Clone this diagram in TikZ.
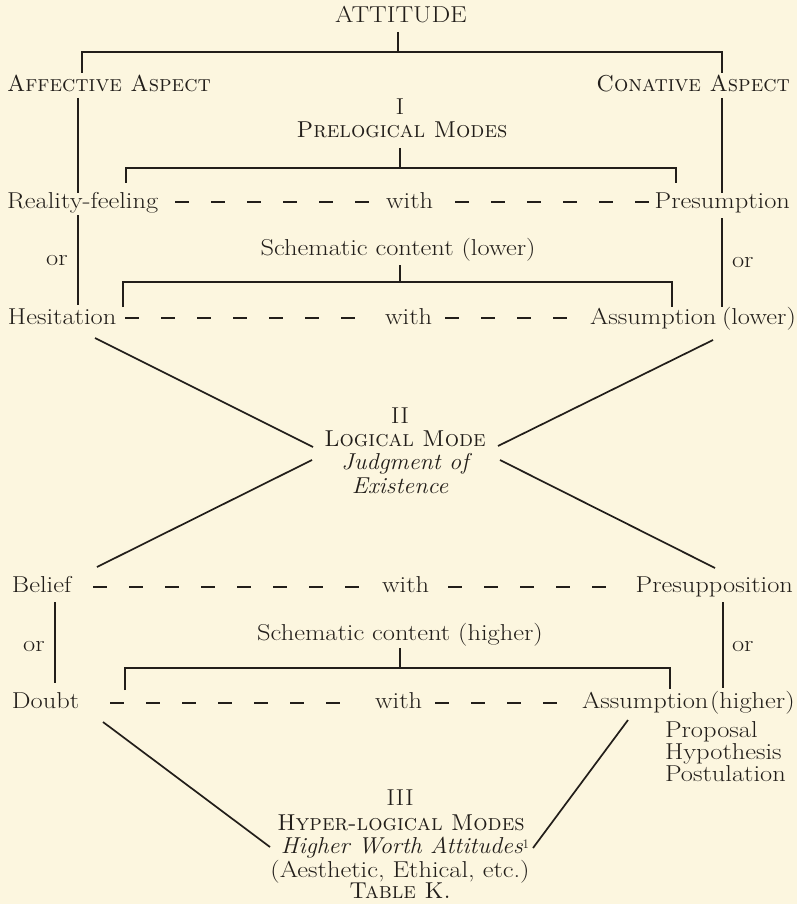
\documentclass[tikz,border=0pt]{standalone}
\definecolor{bg}{HTML}{FCF6DF}
\definecolor{ink}{HTML}{221E1A}
\newcommand\Rm[1]{\scalebox{1.15}[1]{#1}}
\newcommand\It[1]{\scalebox{1.05}[1]{\itshape #1}}
\newcommand\Sc[1]{\scalebox{0.98}[1]{\scshape #1}}
\begin{document}
\begin{tikzpicture}[x=1pt,y=-1pt,
  every node/.style={inner sep=0pt,outer sep=0pt,text=ink,font=\fontsize{23}{27}\selectfont},
  ln/.style={draw=ink,line width=1.7pt},
  dl/.style={draw=ink,line width=1.5pt,dash pattern=on 14pt off 22pt},
  tl/.style={anchor=base west},
  tr/.style={anchor=base east},
  tc/.style={anchor=base}]
\useasboundingbox[fill=bg] (0,0) rectangle (797,904);
% --- texts ---
\node[tc] (attitude) at (401,23) {\Rm{ATTITUDE}};
\node[tl] (affective) at (7,92) {\Sc{Affective Aspect}};
\node[tr] (conative) at (790,92) {\Sc{Conative Aspect}};
\node[tc] (one) at (400,115) {\Rm{I}};
\node[tc] (prelogical) at (402,138) {\Sc{Prelogical Modes}};
\node[tl] (reality) at (7,208) {\Rm{Reality-feeling}};
\node[tl] (withA) at (386,208) {\Rm{with}};
\node[tr] (presumption) at (790,208) {\Rm{Presumption}};
\node[tc] (orA) at (57,265) {\Rm{or}};
\node[tl] (orB) at (732,267) {\Rm{or}};
\node[tc] (schemA) at (398,255) {\Rm{Schematic content (lower)}};
\node[tl] (hesitation) at (8,324) {\Rm{Hesitation}};
\node[tl] (withB) at (385,324) {\Rm{with}};
\node[tl] (assumA) at (590,324) {\Rm{Assumption}};
\node[tl] (lower) at (722,324) {\Rm{(lower)}};
\node[tc] (two) at (400,423) {\Rm{II}};
\node[tc] (logical) at (405,446) {\Sc{Logical Mode}};
\node[tc] (judgment) at (405,469) {\It{Judgment of}};
\node[tc] (existence) at (400,493) {\It{Existence}};
\node[tl] (belief) at (12,592) {\Rm{Belief}};
\node[tl] (withC) at (382,592) {\Rm{with}};
\node[tr] (presup) at (793,592) {\Rm{Presupposition}};
\node[tc] (orC) at (34,651) {\Rm{or}};
\node[tl] (orD) at (732,651) {\Rm{or}};
\node[tc] (schemB) at (400,640) {\Rm{Schematic content (higher)}};
\node[tl] (doubt) at (12,708) {\Rm{Doubt}};
\node[tl] (withD) at (375,708) {\Rm{with}};
\node[tl] (assumB) at (582,708) {\Rm{Assumption}};
\node[tl] (higher) at (710,708) {\Rm{(higher)}};
\node[tl] (proposal) at (665,737) {\Rm{Proposal}};
\node[tl] (hypothesis) at (665,759) {\Rm{Hypothesis}};
\node[tl] (postulation) at (665,781) {\Rm{Postulation}};
\node[tc] (three) at (400,805) {\Rm{III}};
\node[tc] (hyper) at (401,830) {\Sc{Hyper-logical Modes}};
\node[tc] (worth) at (405,853) {\It{Higher Worth Attitudes}\raisebox{0.45ex}{\fontsize{13}{13}\selectfont 1}};
\node[tc] (aesthetic) at (400,877) {\Rm{(Aesthetic, Ethical, etc.)}};
\node[tc] (table) at (400,898) {\Sc{Table K.}};
% --- coordinates ---
\coordinate (a0) at (398,32); \coordinate (a1) at (398,52);
\coordinate (aL) at (82,52); \coordinate (aR) at (722,52);
\coordinate (aLd) at (82,73); \coordinate (aRd) at (722,73);
\coordinate (afT) at (78,98); \coordinate (afB) at (78,193);
\coordinate (coT) at (722,98); \coordinate (coB) at (722,193);
\coordinate (p0) at (400,148); \coordinate (p1) at (400,168);
\coordinate (pL) at (126,168); \coordinate (pR) at (676,168);
\coordinate (pLd) at (126,183); \coordinate (pRd) at (676,183);
\coordinate (r1a) at (175,202); \coordinate (r1b) at (380,202);
\coordinate (r1c) at (455,202); \coordinate (r1d) at (650,202);
\coordinate (oAT) at (78,215); \coordinate (oAB) at (78,305);
\coordinate (oBT) at (722,218); \coordinate (oBB) at (722,307);
\coordinate (s0) at (400,265); \coordinate (s1) at (400,282);
\coordinate (sL) at (123,282); \coordinate (sR) at (672,282);
\coordinate (sLd) at (123,307); \coordinate (sRd) at (672,307);
\coordinate (r2a) at (125,318); \coordinate (r2b) at (367,318);
\coordinate (r2c) at (445,318); \coordinate (r2d) at (575,318);
\coordinate (x1a) at (95,338); \coordinate (x1b) at (313,447);
\coordinate (x2a) at (713,340); \coordinate (x2b) at (498,446);
\coordinate (x3a) at (312,460); \coordinate (x3b) at (97,567);
\coordinate (x4a) at (500,460); \coordinate (x4b) at (715,568);
\coordinate (r3a) at (93,587); \coordinate (r3b) at (370,587);
\coordinate (r3c) at (448,587); \coordinate (r3d) at (613,587);
\coordinate (oCT) at (55,602); \coordinate (oCB) at (55,683);
\coordinate (oDT) at (723,602); \coordinate (oDB) at (723,688);
\coordinate (t0) at (400,648); \coordinate (t1) at (400,668);
\coordinate (tL) at (125,668); \coordinate (tR) at (670,668);
\coordinate (tLd) at (125,690); \coordinate (tRd) at (670,689);
\coordinate (r4a) at (110,703); \coordinate (r4b) at (353,703);
\coordinate (r4c) at (435,703); \coordinate (r4d) at (565,703);
\coordinate (y1a) at (103,722); \coordinate (y1b) at (270,847);
\coordinate (y2a) at (628,720); \coordinate (y2b) at (533,848);
% --- lines ---
\draw[ln] (a0) -- (a1);
\draw[ln] (aLd) -- (aL) -- (aR) -- (aRd);
\draw[ln] (afT) -- (afB);
\draw[ln] (coT) -- (coB);
\draw[ln] (p0) -- (p1);
\draw[ln] (pLd) -- (pL) -- (pR) -- (pRd);
\draw[dl] (r1a) -- (r1b);
\draw[dl] (r1c) -- (r1d);
\draw[ln] (oAT) -- (oAB);
\draw[ln] (oBT) -- (oBB);
\draw[ln] (s0) -- (s1);
\draw[ln] (sLd) -- (sL) -- (sR) -- (sRd);
\draw[dl] (r2a) -- (r2b);
\draw[dl] (r2c) -- (r2d);
\draw[ln] (x1a) -- (x1b);
\draw[ln] (x2a) -- (x2b);
\draw[ln] (x3a) -- (x3b);
\draw[ln] (x4a) -- (x4b);
\draw[dl] (r3a) -- (r3b);
\draw[dl] (r3c) -- (r3d);
\draw[ln] (oCT) -- (oCB);
\draw[ln] (oDT) -- (oDB);
\draw[ln] (t0) -- (t1);
\draw[ln] (tLd) -- (tL) -- (tR) -- (tRd);
\draw[dl] (r4a) -- (r4b);
\draw[dl] (r4c) -- (r4d);
\draw[ln] (y1a) -- (y1b);
\draw[ln] (y2a) -- (y2b);
\end{tikzpicture}
\end{document}
